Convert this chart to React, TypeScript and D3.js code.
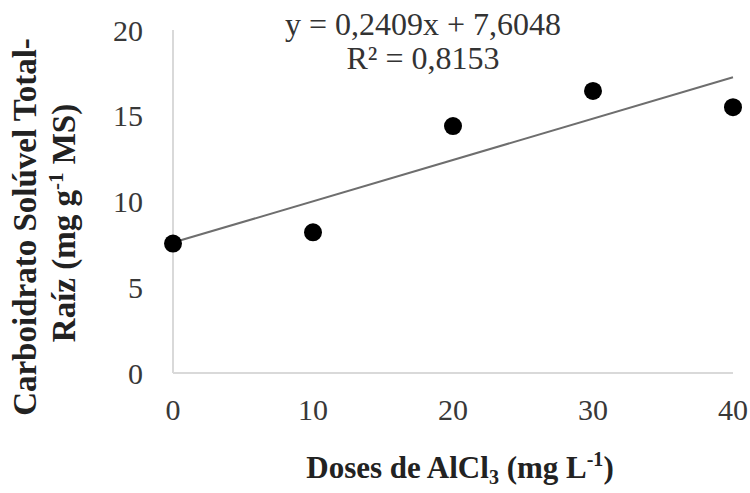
import React from "react";
import * as d3 from "d3";

// doses de AlCl3 (mg L-1)
const doses = [0, 10, 20, 30, 40];
// carboidrato solúvel total - raiz (mg g-1 MS)
const carboidrato = [7.55, 8.2, 14.4, 16.45, 15.5];
const xTicks = [0, 10, 20, 30, 40];
const yTicks = [0, 5, 10, 15, 20];
const slope = 0.2409;
const intercept = 7.6048;
const eqText = "y = 0,2409x + 7,6048";
const r2Text = "R² = 0,8153";

export default function App() {
  const width = 750;
  const height = 493;
  const font = "'Liberation Serif', 'Times New Roman', serif";

  const x = d3.scaleLinear().domain([0, 40]).range([173, 733]);
  const y = d3.scaleLinear().domain([0, 20]).range([373, 30]);

  const trend = d3
    .line<number>()
    .x((d) => x(d))
    .y((d) => y(slope * d + intercept));

  return (
    <svg
      width={width}
      height={height}
      style={{ position: "absolute", left: 0, top: 0, background: "#fff" }}
      fontFamily={font}
    >
      {/* axes */}
      <line x1={x(0)} y1={y(0)} x2={x(0)} y2={y(20)} stroke="#d9d9d9" strokeWidth={2} />
      <line x1={x(0)} y1={y(0)} x2={x(40)} y2={y(0)} stroke="#d9d9d9" strokeWidth={2} />

      {yTicks.map((t) => (
        <text key={"y" + t} x={143} y={y(t)} dy="0.35em" fontSize={30} textAnchor="end" fill="#383838">
          {t}
        </text>
      ))}
      {xTicks.map((t) => (
        <text key={"x" + t} x={x(t)} y={420} fontSize={30} textAnchor="middle" fill="#383838">
          {t}
        </text>
      ))}

      {/* linha de tendência */}
      <path d={trend([0, 40]) || ""} fill="none" stroke="#6e6e6e" strokeWidth={2} />

      {doses.map((d, i) => (
        <circle key={i} cx={x(d)} cy={y(carboidrato[i])} r={9} fill="#000" />
      ))}

      <text x={423} y={35} fontSize={32} textAnchor="middle" fill="#333">
        {eqText}
      </text>
      <text x={423} y={69} fontSize={32} textAnchor="middle" fill="#333">
        {r2Text}
      </text>

      {/* títulos */}
      <text x={460} y={478} fontSize={31} fontWeight="bold" textAnchor="middle" fill="#222">
        Doses de AlCl<tspan fontSize={20} dy={6}>3</tspan>
        <tspan dy={-6}> (mg L</tspan>
        <tspan fontSize={20} dy={-12}>-1</tspan>
        <tspan dy={12}>)</tspan>
      </text>
      <g transform="translate(0,227) rotate(-90)">
        <text x={0} y={36} fontSize={33} fontWeight="bold" textAnchor="middle" fill="#222">
          Carboidrato Solúvel Total-
        </text>
      </g>
      <g transform="translate(0,223) rotate(-90)">
        <text x={0} y={75} fontSize={33} fontWeight="bold" textAnchor="middle" fill="#222">
          Raíz (mg g<tspan fontSize={21} dy={-12}>-1</tspan>
          <tspan dy={12}> MS)</tspan>
        </text>
      </g>
    </svg>
  );
}
